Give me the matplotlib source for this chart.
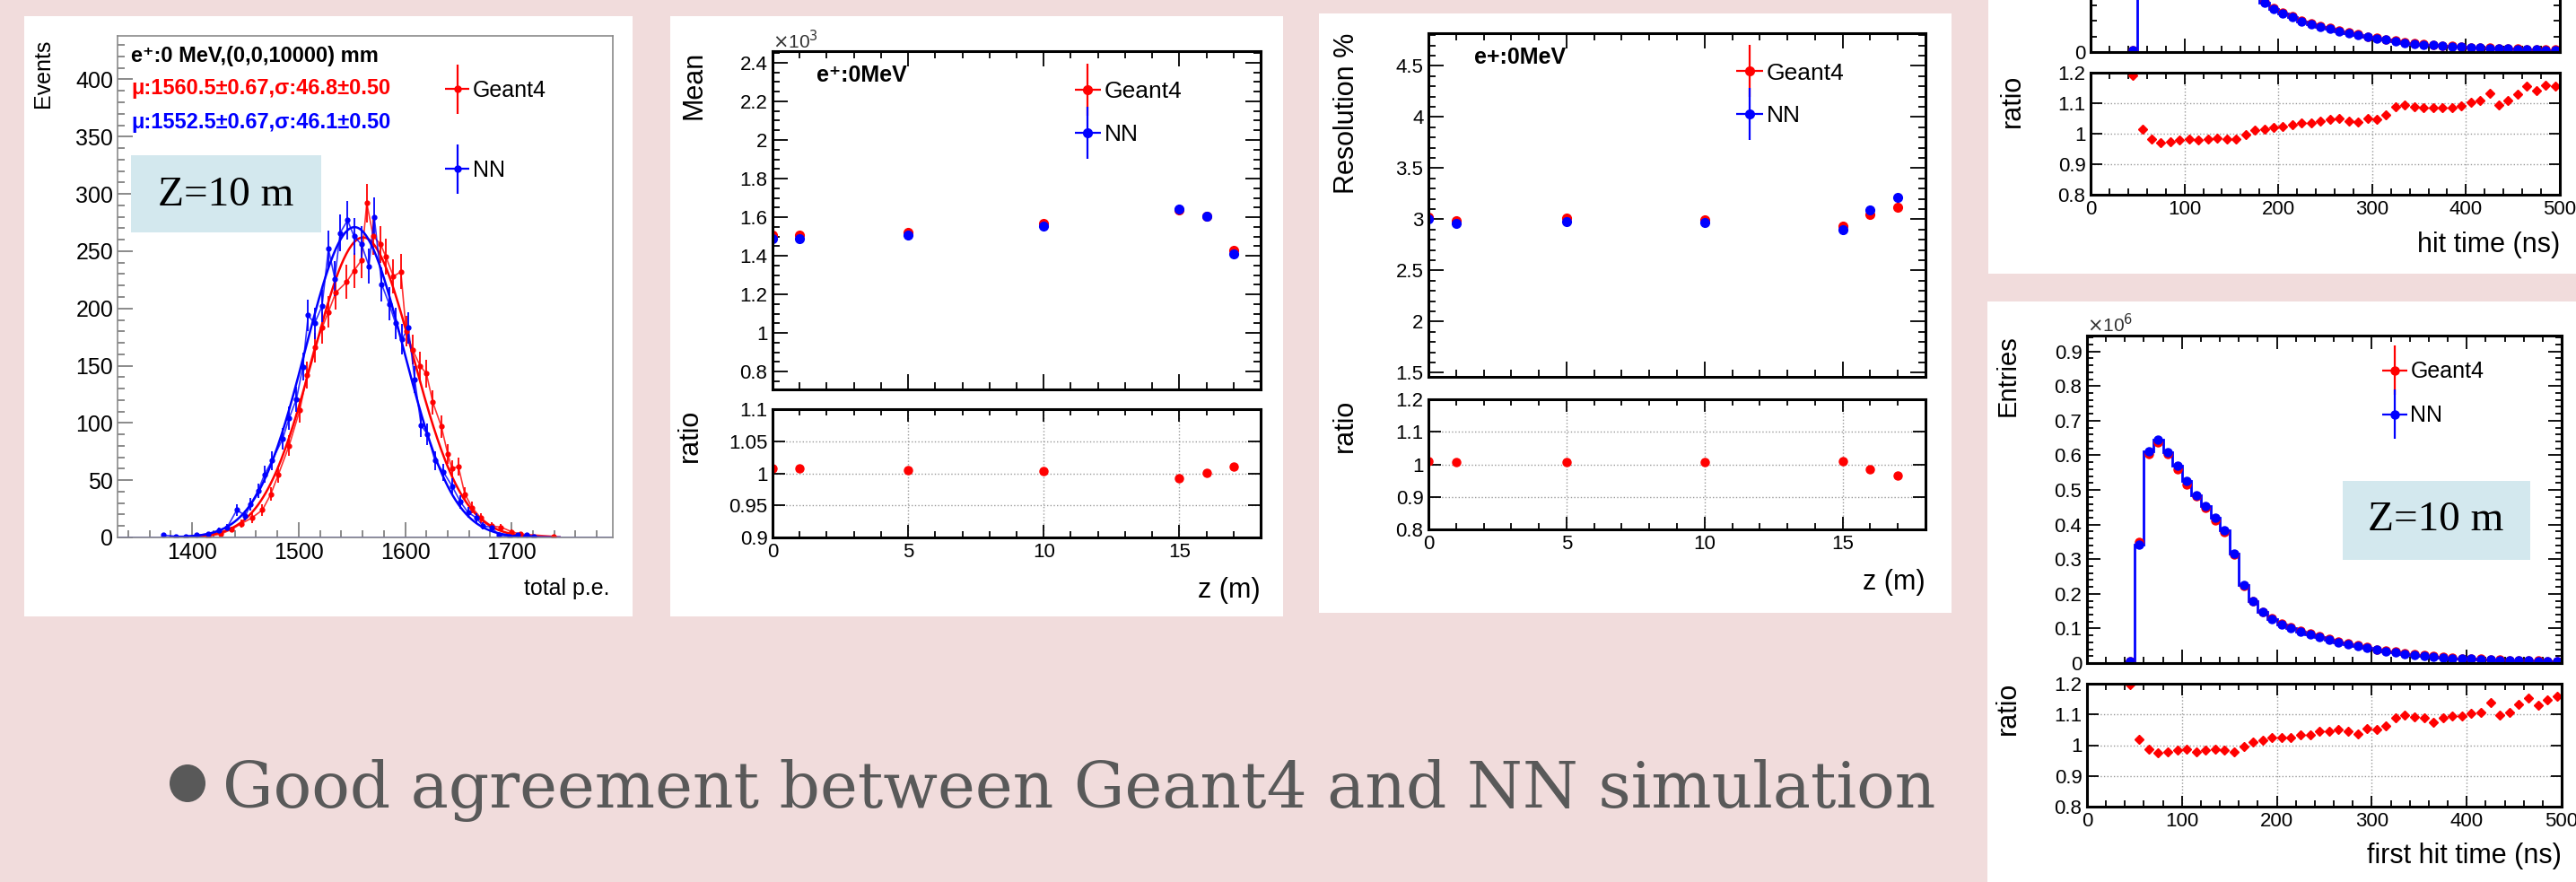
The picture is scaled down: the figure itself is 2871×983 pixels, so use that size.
import numpy as np
import matplotlib
matplotlib.use("Agg")
import matplotlib.pyplot as plt
from matplotlib.patches import Rectangle, Ellipse
from matplotlib.ticker import MultipleLocator, FixedLocator, FuncFormatter, NullFormatter
from matplotlib.legend_handler import HandlerErrorbar
from matplotlib.container import ErrorbarContainer

W, H = 2871, 983
BG = "#f1dcdc"
RED = "#ff0000"
BLUE = "#0000ff"
SANS = ["Liberation Sans", "DejaVu Sans"]

#################################################################
# panel 1 : total p.e. at z = 10 m
g4_pe = [1415, 1427, 1437, 1446, 1456, 1466, 1474, 1481, 1491, 1501, 1508, 1515,
         1522, 1528, 1535, 1545, 1552, 1559, 1564, 1570, 1577, 1582, 1589, 1596,
         1601, 1607, 1614, 1620, 1626, 1634, 1640, 1644, 1650, 1656, 1663, 1671,
         1681, 1690, 1700, 1708, 1739]
g4_events = [1, 3, 7, 12, 17, 24, 38, 55, 80, 111, 142, 166,
             183, 197, 214, 223, 233, 242, 292, 263, 256, 245, 228, 232,
             180, 164, 150, 143, 118, 97, 73, 60, 62, 38, 26, 17,
             10, 9, 5, 3, 1]
nn_pe = [1373, 1385, 1394, 1404, 1415, 1425, 1433, 1442, 1450, 1455, 1462, 1468,
         1475, 1485, 1491, 1498, 1504, 1509, 1515, 1522, 1528, 1534, 1539, 1546,
         1552, 1559, 1566, 1571, 1578, 1585, 1591, 1597, 1603, 1609, 1615, 1621,
         1628, 1636, 1644, 1652, 1659, 1667, 1673, 1681, 1688, 1698, 1706, 1714, 1721]
nn_events = [2, 1, 1, 2, 3, 6, 9, 24, 19, 29, 41, 55,
             67, 86, 104, 121, 149, 194, 187, 202, 252, 226, 266, 277,
             263, 256, 237, 280, 221, 204, 187, 173, 183, 138, 98, 90,
             67, 57, 45, 31, 22, 17, 10, 9, 2, 1, 2, 2, 1]
g4_fit = (1560.5, 46.8, 262)
nn_fit = (1552.5, 46.1, 271)

#################################################################
# panels 2 and 3 : mean and resolution versus z
z_pos = [0, 1, 5, 10, 15, 16, 17]
g4_mean = [1.508, 1.505, 1.520, 1.569, 1.638, 1.606, 1.426]
nn_mean = [1.487, 1.491, 1.508, 1.553, 1.641, 1.604, 1.409]
mean_ratio = [1.007, 1.007, 1.005, 1.004, 0.993, 1.001, 1.010]
g4_res = [3.025, 2.986, 3.013, 2.998, 2.936, 3.044, 3.114]
nn_res = [3.006, 2.956, 2.979, 2.967, 2.898, 3.095, 3.218]
res_ratio = [1.009, 1.006, 1.006, 1.008, 1.011, 0.985, 0.966]

#################################################################
# right panels : hit time / first hit time (x10^6 entries), 10 ns bins
time_edges = np.arange(0, 510, 10)
first_nn = [0, 0, 0, 0, 0.005, 0.342, 0.612, 0.645, 0.609, 0.569,
            0.525, 0.485, 0.453, 0.419, 0.384, 0.316, 0.225, 0.178, 0.147, 0.126,
            0.112, 0.101, 0.091, 0.082, 0.075, 0.068, 0.060, 0.055, 0.049, 0.044,
            0.038, 0.034, 0.031, 0.026, 0.023, 0.021, 0.019, 0.016, 0.014, 0.013,
            0.012, 0.011, 0.010, 0.009, 0.008, 0.008, 0.007, 0.006, 0.005, 0.005]
first_g4 = [0, 0, 0, 0, 0.006, 0.349, 0.604, 0.637, 0.604, 0.560,
            0.516, 0.481, 0.448, 0.412, 0.379, 0.313, 0.224, 0.180, 0.149, 0.129,
            0.115, 0.104, 0.094, 0.085, 0.078, 0.071, 0.063, 0.058, 0.051, 0.046,
            0.040, 0.036, 0.034, 0.029, 0.025, 0.023, 0.020, 0.017, 0.015, 0.014,
            0.013, 0.012, 0.011, 0.010, 0.009, 0.009, 0.008, 0.007, 0.006, 0.006]
first_ratio = [1.198, 1.020, 0.986, 0.974, 0.979, 0.984, 0.986, 0.979, 0.983, 0.986,
               0.984, 0.979, 0.996, 1.011, 1.016, 1.024, 1.026, 1.026, 1.034, 1.034,
               1.045, 1.046, 1.051, 1.046, 1.036, 1.055, 1.051, 1.063, 1.089, 1.098,
               1.092, 1.089, 1.073, 1.089, 1.096, 1.096, 1.104, 1.108, 1.139, 1.098,
               1.108, 1.132, 1.154, 1.129, 1.148, 1.160]
hit_nn = [0, 0, 0, 0, 0.004, 0.330, 0.600, 0.640, 0.610, 0.570,
          0.530, 0.490, 0.455, 0.420, 0.385, 0.320, 0.230, 0.180, 0.143, 0.125,
          0.112, 0.101, 0.089, 0.080, 0.073, 0.067, 0.060, 0.054, 0.049, 0.043,
          0.039, 0.035, 0.030, 0.026, 0.023, 0.022, 0.020, 0.017, 0.016, 0.015,
          0.013, 0.012, 0.011, 0.010, 0.0095, 0.0086, 0.0078, 0.0069, 0.006, 0.006]
hit_g4 = [0, 0, 0, 0, 0.005, 0.335, 0.590, 0.620, 0.595, 0.558,
          0.521, 0.480, 0.447, 0.414, 0.378, 0.314, 0.230, 0.182, 0.145, 0.128,
          0.115, 0.104, 0.092, 0.083, 0.076, 0.070, 0.063, 0.056, 0.051, 0.045,
          0.041, 0.037, 0.033, 0.028, 0.025, 0.024, 0.022, 0.018, 0.017, 0.016,
          0.014, 0.013, 0.012, 0.011, 0.0105, 0.0097, 0.009, 0.0079, 0.007, 0.007]
hit_ratio = [1.191, 1.015, 0.981, 0.970, 0.973, 0.978, 0.982, 0.978, 0.983, 0.985,
             0.981, 0.981, 0.998, 1.012, 1.015, 1.020, 1.025, 1.029, 1.034, 1.035,
             1.042, 1.047, 1.050, 1.042, 1.037, 1.050, 1.047, 1.063, 1.089, 1.095,
             1.089, 1.084, 1.084, 1.084, 1.086, 1.091, 1.102, 1.110, 1.133, 1.095,
             1.110, 1.128, 1.157, 1.141, 1.159, 1.157]

#################################################################
fig = plt.figure(figsize=(W / 100, H / 100), dpi=100, facecolor=BG)


def box(x0, y0, x1, y1, color="white", z=-10):
    #retangulo em pixels da figura
    fig.patches.append(Rectangle((x0 / W, 1 - y1 / H), (x1 - x0) / W, (y1 - y0) / H,
                                 transform=fig.transFigure, facecolor=color,
                                 edgecolor="none", zorder=z))


def axes_px(x0, y0, x1, y1):
    return fig.add_axes([x0 / W, 1 - y1 / H, (x1 - x0) / W, (y1 - y0) / H])


def ftext(x, y, s, **kw):
    kw.setdefault("family", SANS)
    return fig.text(x / W, 1 - y / H, s, **kw)


def g_fmt(v, pos):
    return "%g" % round(v, 4)


def root_style(ax, lw=2.2, major=12, minor=6, size=16):
    for sp in ax.spines.values():
        sp.set_linewidth(lw)
        sp.set_color("black")
    ax.tick_params(which="both", direction="in", top=True, right=True, width=1.3,
                   labelsize=size, pad=4)
    ax.tick_params(which="major", length=major)
    ax.tick_params(which="minor", length=minor)
    for lab in ax.get_xticklabels() + ax.get_yticklabels():
        lab.set_family(SANS)


def legend(ax, x, y, spacing, size, ms):
    hg = ax.errorbar([np.nan], [np.nan], xerr=[1], yerr=[1], fmt="o", color=RED,
                     ms=ms, elinewidth=1.6, capsize=0)
    hn = ax.errorbar([np.nan], [np.nan], xerr=[1], yerr=[1], fmt="o", color=BLUE,
                     ms=ms, elinewidth=1.6, capsize=0)
    ax.legend([hg, hn], ["Geant4", "NN"], loc="upper left", bbox_to_anchor=(x, y),
              frameon=False, prop={"family": SANS, "size": size}, handlelength=1.1,
              handletextpad=0.15, labelspacing=spacing, borderpad=0, borderaxespad=0,
              handler_map={ErrorbarContainer: HandlerErrorbar(xerr_size=0.55, yerr_size=1.1)})


#################################################################
# painel 1 : histograma de total p.e.
box(27, 18, 705, 687)
ax1 = axes_px(131, 40, 683, 599)
fit_x = np.linspace(1380, 1745, 300)
for pe, ev, fit, col in [(g4_pe, g4_events, g4_fit, RED), (nn_pe, nn_events, nn_fit, BLUE)]:
    ax1.plot(pe, ev, color=col, lw=1.2, alpha=0.8)
    ax1.errorbar(pe, ev, yerr=np.sqrt(ev), fmt="o", color=col, ms=3.5, elinewidth=1.3, capsize=0)
    mu, sig, amp = fit
    ax1.plot(fit_x, amp * np.exp(-0.5 * ((fit_x - mu) / sig) ** 2), color=col, lw=1.8)
ax1.axhline(0, color=BLUE, lw=1.8)
ax1.set_xlim(1330, 1795)
ax1.set_ylim(0, 438)
ax1.xaxis.set_major_locator(MultipleLocator(100))
ax1.xaxis.set_minor_locator(MultipleLocator(20))
ax1.yaxis.set_major_locator(MultipleLocator(50))
ax1.yaxis.set_minor_locator(MultipleLocator(10))
for sp in ax1.spines.values():
    sp.set_linewidth(1.2)
    sp.set_color("#8a8a8a")
ax1.tick_params(which="both", direction="in", color="#777777", width=1.2, labelsize=18)
ax1.tick_params(which="major", length=12)
ax1.tick_params(which="minor", length=6)
for lab in ax1.get_xticklabels() + ax1.get_yticklabels():
    lab.set_family(SANS)
legend(ax1, 0.661, 0.912, 2.6, 18, 5)
ftext(146, 63, "e\u207a:0 MeV,(0,0,10000) mm", fontsize=17, fontweight="bold", va="center")
ftext(146, 99, "\u03bc:1560.5\u00b10.67,\u03c3:46.8\u00b10.50", fontsize=17, fontweight="bold",
      color=RED, va="center")
ftext(146, 136, "\u03bc:1552.5\u00b10.67,\u03c3:46.1\u00b10.50", fontsize=17, fontweight="bold",
      color=BLUE, va="center")
box(146, 173, 358, 259, color="#d3e8ee", z=5)
ftext(252, 218, "Z=10 m", family="Liberation Serif", fontsize=34, ha="center", va="center", zorder=6)
ftext(48, 44, "Events", fontsize=18, rotation=90, ha="center", va="top")
ftext(679, 656, "total p.e.", fontsize=18, ha="right", va="center")

#################################################################
# paineis 2 e 3 : media e resolucao em funcao de z
panels = [
    dict(frame=(747, 18, 1430, 687), main=(861, 57, 1405, 434), ratio=(861, 456, 1405, 599),
         g4=g4_mean, nn=nn_mean, r=mean_ratio, ylim=(0.708, 2.46), ymaj=0.2, ymin=0.05,
         rlim=(0.9, 1.1), rmaj=0.05, label="e\u207a:0MeV", ylab="Mean",
         ylab_xy=(773, 57), rlab_xy=(769, 456), zlab_xy=(1405, 658), tag_xy=(0.09, 0.928),
         leg=(0.619, 0.912)),
    dict(frame=(1470, 15, 2175, 683), main=(1592, 37, 2146, 420), ratio=(1592, 445, 2146, 590),
         g4=g4_res, nn=nn_res, r=res_ratio, ylim=(1.46, 4.82), ymaj=0.5, ymin=0.1,
         rlim=(0.8, 1.2), rmaj=0.1, label="e+:0MeV", ylab="Resolution %",
         ylab_xy=(1501, 37), rlab_xy=(1499, 445), zlab_xy=(2146, 649), tag_xy=(0.092, 0.93),
         leg=(0.620, 0.915)),
]
for p in panels:
    box(*p["frame"])
    ax = axes_px(*p["main"])
    ax.errorbar(z_pos, p["g4"], yerr=0.004 * np.array(p["g4"]), fmt="o", color=RED, ms=7,
                elinewidth=1.2, capsize=0)
    ax.errorbar(z_pos, p["nn"], yerr=0.004 * np.array(p["nn"]), fmt="o", color=BLUE, ms=7,
                elinewidth=1.2, capsize=0)
    ax.set_xlim(0, 18)
    ax.set_ylim(*p["ylim"])
    ax.xaxis.set_major_locator(MultipleLocator(5))
    ax.xaxis.set_minor_locator(MultipleLocator(1))
    ax.yaxis.set_major_locator(MultipleLocator(p["ymaj"]))
    ax.yaxis.set_minor_locator(MultipleLocator(p["ymin"]))
    ax.yaxis.set_major_formatter(FuncFormatter(g_fmt))
    ax.xaxis.set_major_formatter(NullFormatter())
    root_style(ax)
    ax.text(p["tag_xy"][0], p["tag_xy"][1], p["label"], transform=ax.transAxes, fontsize=18,
            fontweight="bold", family=SANS, va="center")
    legend(ax, p["leg"][0], p["leg"][1], 0.9, 19, 7)

    rx = axes_px(*p["ratio"])
    rx.errorbar(z_pos, p["r"], yerr=0.004, fmt="o", color=RED, ms=6.5, elinewidth=1.2, capsize=0)
    rx.set_xlim(0, 18)
    rx.set_ylim(*p["rlim"])
    rx.xaxis.set_major_locator(MultipleLocator(5))
    rx.xaxis.set_minor_locator(MultipleLocator(1))
    rx.yaxis.set_major_locator(MultipleLocator(p["rmaj"]))
    rx.yaxis.set_major_formatter(FuncFormatter(g_fmt))
    rx.grid(True, which="major", color="#9a9a9a", ls=":", lw=1)
    root_style(rx, major=10, minor=5)
    rx.tick_params(axis="y", which="minor", length=0)

    ftext(p["ylab_xy"][0], p["ylab_xy"][1], p["ylab"], fontsize=22, rotation=90,
          ha="center", va="top")
    ftext(p["rlab_xy"][0], p["rlab_xy"][1], "ratio", fontsize=22, rotation=90,
          ha="center", va="top")
    ftext(p["zlab_xy"][0], p["zlab_xy"][1], "z (m)", fontsize=22, ha="right", va="center")

ftext(861, 46, r"$\times$10$^{3}$", fontsize=15, va="center", color="#333333")

#################################################################
# paineis da direita : hit time (cortado em cima) e first hit time
centers = 0.5 * (time_edges[:-1] + time_edges[1:])
right = [
    dict(frame=(2216, -345, 2871, 305), main=(2330, -307, 2853, 58), ratio=(2330, 81, 2853, 217),
         nn=hit_nn, g4=hit_g4, r=hit_ratio, xlab="hit time (ns)", xlab_xy=(2853, 273),
         rlab_xy=(2243, 83), extra=False),
    dict(frame=(2215, 336, 2871, 1000), main=(2326, 374, 2855, 739), ratio=(2326, 762, 2855, 899),
         nn=first_nn, g4=first_g4, r=first_ratio, xlab="first hit time (ns)", xlab_xy=(2855, 954),
         rlab_xy=(2238, 760), extra=True),
]
for p in right:
    box(*p["frame"])
    ax = axes_px(*p["main"])
    nn = np.array(p["nn"])
    g4 = np.array(p["g4"])
    ax.stairs(nn, time_edges, color=BLUE, lw=2)
    on = nn > 0
    ax.plot(centers[on], g4[on], "o", color=RED, ms=6.5)
    ax.plot(centers[on], nn[on], "o", color=BLUE, ms=6.5)
    ax.set_xlim(0, 500)
    ax.set_ylim(0, 0.946)
    ax.xaxis.set_major_locator(MultipleLocator(100))
    ax.xaxis.set_minor_locator(MultipleLocator(20))
    if p["extra"]:
        ax.yaxis.set_major_locator(MultipleLocator(0.1))
        ax.yaxis.set_minor_locator(MultipleLocator(0.02))
    else:
        # only the bottom of this plot is on the slide
        ax.yaxis.set_major_locator(FixedLocator([0]))
        ax.yaxis.set_minor_locator(MultipleLocator(0.045))
    ax.yaxis.set_major_formatter(FuncFormatter(g_fmt))
    ax.xaxis.set_major_formatter(NullFormatter())
    root_style(ax, major=11, minor=5)

    rx = axes_px(*p["ratio"])
    rx.plot(centers[on], p["r"], "D", color=RED, ms=5.5)
    rx.set_xlim(0, 500)
    rx.set_ylim(0.8, 1.2)
    rx.xaxis.set_major_locator(MultipleLocator(100))
    rx.xaxis.set_minor_locator(MultipleLocator(20))
    rx.yaxis.set_major_locator(MultipleLocator(0.1))
    rx.yaxis.set_major_formatter(FuncFormatter(g_fmt))
    rx.grid(True, which="major", color="#9a9a9a", ls=":", lw=1)
    root_style(rx, major=9, minor=5)
    rx.tick_params(axis="y", which="minor", length=0)

    ftext(p["rlab_xy"][0], p["rlab_xy"][1], "ratio", fontsize=22, rotation=90,
          ha="center", va="top")
    ftext(p["xlab_xy"][0], p["xlab_xy"][1], p["xlab"], fontsize=22, ha="right", va="center")
    if p["extra"]:
        legend(ax, 0.622, 0.922, 1.0, 18, 6.5)
        ftext(2326, 362, r"$\times$10$^{6}$", fontsize=15, va="center", color="#333333")
        ftext(2238, 373, "Entries", fontsize=21, rotation=90, ha="center", va="top")
        box(2611, 536, 2820, 624, color="#d3e8ee", z=5)
        ftext(2715, 580, "Z=10 m", family="Liberation Serif", fontsize=34, ha="center",
              va="center", zorder=6)

#################################################################
# texto do slide
fig.patches.append(Ellipse((209 / W, 1 - 873 / H), 40 / W, 42 / H, transform=fig.transFigure,
                           facecolor="#595959", edgecolor="none", zorder=5))
ftext(248, 900, "Good agreement between Geant4 and NN simulation", family="DejaVu Serif",
      fontsize=51, color="#595959", va="baseline")

fig.savefig("out.png", dpi=100, facecolor=BG)
